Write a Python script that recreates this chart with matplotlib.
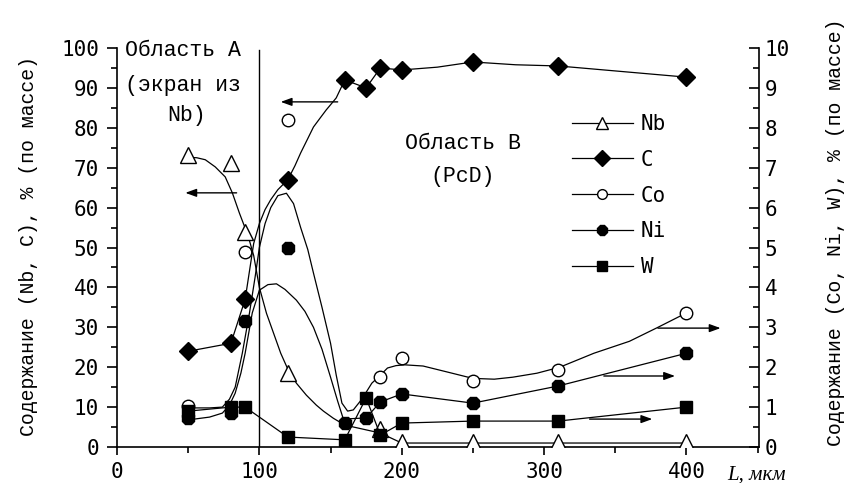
import matplotlib
matplotlib.use("Agg")
import matplotlib.pyplot as plt
from matplotlib.lines import Line2D
from matplotlib.ticker import MultipleLocator

# ---------------- data ----------------
# measured points
x_nb = [50, 80, 90, 120, 185, 200, 250, 310, 400]
nb = [73.2, 71.3, 54, 18.5, 4.5, 1.3, 1.3, 1.3, 1.3]

x_c = [50, 80, 90, 120, 160, 175, 185, 200, 250, 310, 400]
c = [24, 26, 37, 67, 92, 90, 95, 94.5, 96.5, 95.5, 92.7]

x_co = [50, 90, 120, 185, 200, 250, 310, 400]
co = [1.02, 4.9, 8.2, 1.75, 2.23, 1.65, 1.93, 3.36]

x_ni = [50, 80, 90, 120, 160, 175, 185, 200, 250, 310, 400]
ni = [0.73, 0.85, 3.15, 5.0, 0.6, 0.73, 1.13, 1.33, 1.1, 1.53, 2.35]

x_w = [50, 80, 90, 120, 160, 175, 185, 200, 250, 310, 400]
w = [0.9, 1.0, 1.0, 0.25, 0.18, 1.23, 0.3, 0.6, 0.65, 0.65, 1.0]

# drawn (fitted) curves as they appear in the picture
nb_curve_x = [50, 56, 62, 69, 76, 81, 86, 92, 96, 100, 105, 110, 115, 120, 126, 133, 140, 145, 152, 160,
              185, 200, 250, 310, 400]
nb_curve_y = [72.6, 72.5, 72.0, 70.2, 67.7, 63.7, 58.6, 53, 48, 40, 33.5, 28.5, 23.5, 19.5, 16, 13, 10.5,
              9, 7.2, 5.5, 3.5, 1.0, 1.0, 1.0, 1.0]

c_curve_x = [50, 80, 90, 93, 96, 100, 104, 108, 113, 120, 125, 129, 134, 138, 143, 147, 151, 154, 160,
             175, 185, 200, 225, 250, 280, 310, 400]
c_curve_y = [24, 26, 37, 44, 51, 56, 59.5, 62, 64.5, 67, 70.5, 73.7, 77.3, 80.2, 82.6, 84.5, 86.2, 87.5, 92,
             90, 95, 94.5, 95.2, 96.5, 95.8, 95.5, 92.7]

co_curve_x = [50, 65, 74, 79, 83, 88, 93, 97, 100, 104, 108, 113, 119, 124, 129, 134, 138, 144, 150, 154, 158,
              162, 166, 172, 179, 185, 190, 196, 202, 215, 232, 250, 265, 278, 295, 311, 335, 360, 380, 400]
co_curve_y = [0.98, 0.98, 1.0, 1.2, 1.5, 2.35, 3.35, 4.26, 5.0, 5.6, 6.0, 6.3, 6.36, 6.1, 5.5, 4.95, 4.36,
              3.5, 2.6, 1.8, 1.1, 0.9, 0.93, 1.2, 1.6, 1.8, 1.98, 2.04, 2.06, 2.03, 1.88, 1.72, 1.7, 1.75,
              1.85, 2.0, 2.35, 2.65, 3.0, 3.36]

ni_curve_x = [50, 65, 74, 79, 83, 87, 90, 95, 100, 106, 112, 118, 126, 132, 138, 144, 150, 155, 159,
              175, 185, 200, 250, 310, 400]
ni_curve_y = [0.68, 0.75, 0.85, 1.05, 1.35, 1.85, 2.35, 3.36, 3.93, 4.07, 4.09, 3.95, 3.68, 3.4, 3.0, 2.45,
              1.75, 1.15, 0.7, 0.73, 1.13, 1.33, 1.1, 1.53, 2.35]

w_curve_x = x_w
w_curve_y = w

series_labels = ["Nb", "C", "Co", "Ni", "W"]

# annotations
boundary_x = 100
arrows = [((84, 63.7), (48, 63.7)),
          ((155, 86.5), (115, 86.5)),
          ((380, 29.8), (424, 29.8)),
          ((342, 17.8), (392, 17.8)),
          ((332, 7.0), (376, 7.0))]

# ---------------- figure ----------------
mono = "Liberation Mono"
tickfont = "DejaVu Sans Mono"

fig = plt.figure(figsize=(8.53, 4.83), dpi=100)
ax = fig.add_axes([0.1372, 0.0745, 0.7526, 0.8261])
ax2 = ax.twinx()

ax.set_xlim(0, 451)
ax.set_ylim(0, 100)
ax2.set_ylim(0, 10)

for a in (ax, ax2):
    a.spines["top"].set_visible(False)
    for s in a.spines.values():
        s.set_linewidth(1.2)
ax.spines["right"].set_visible(False)
ax2.spines["left"].set_visible(False)
ax2.spines["bottom"].set_visible(False)

ax.xaxis.set_major_locator(MultipleLocator(100))
ax.xaxis.set_minor_locator(MultipleLocator(50))
ax.yaxis.set_major_locator(MultipleLocator(10))
ax.yaxis.set_minor_locator(MultipleLocator(5))
ax2.yaxis.set_major_locator(MultipleLocator(1))
ax2.yaxis.set_minor_locator(MultipleLocator(0.5))

ax.tick_params(axis="x", which="major", direction="out", length=6, width=1.2, pad=5, top=False)
ax.tick_params(axis="x", which="minor", direction="out", length=4, width=1.2, top=False)
ax.tick_params(axis="y", which="major", direction="out", length=7, width=1.2, pad=6, right=False)
ax.tick_params(axis="y", which="minor", direction="out", length=4, width=1.2, right=False)
ax2.tick_params(axis="y", which="major", direction="in", length=7, width=1.2, pad=4, left=False)
ax2.tick_params(axis="y", which="minor", direction="in", length=4, width=1.2, left=False)

for lab in ax.get_xticklabels() + ax.get_yticklabels() + ax2.get_yticklabels():
    lab.set_fontfamily(tickfont)
    lab.set_fontsize(15)

lw = 0.9
# left-axis series
ax.plot(nb_curve_x, nb_curve_y, color="black", lw=lw, zorder=2)
ax.plot(c_curve_x, c_curve_y, color="black", lw=lw, zorder=2)
ax.plot(x_nb, nb, linestyle="none", marker="^", ms=11, mfc="white", mec="black", mew=1.0, zorder=4)
ax.plot(x_c, c, linestyle="none", marker="D", ms=9.5, mfc="black", mec="black", zorder=4)

# right-axis series
ax2.plot(co_curve_x, co_curve_y, color="black", lw=lw, zorder=2)
ax2.plot(ni_curve_x, ni_curve_y, color="black", lw=lw, zorder=2)
ax2.plot(w_curve_x, w_curve_y, color="black", lw=lw, zorder=2)
ax2.plot(x_co, co, linestyle="none", marker="o", ms=9, mfc="white", mec="black", mew=1.0, zorder=4)
ax2.plot(x_ni, ni, linestyle="none", marker="8", ms=10, mfc="black", mec="black", zorder=4)
ax2.plot(x_w, w, linestyle="none", marker="s", ms=8.5, mfc="black", mec="black", zorder=4)

# boundary line
ax.axvline(boundary_x, ymin=0, ymax=0.995, color="black", lw=1.0, zorder=1)

# arrows
for (tail, head) in arrows:
    ax2.annotate("", xy=(head[0], head[1] / 10), xytext=(tail[0], tail[1] / 10),
                 arrowprops=dict(arrowstyle="-|>,head_length=0.55,head_width=0.2",
                                 color="black", lw=1.0, mutation_scale=12,
                                 shrinkA=0, shrinkB=0))

# region texts
tsize = 15.5
ax2.text(5.6, 9.95, "Область A", fontfamily=mono, fontsize=tsize, ha="left", va="center")
ax2.text(5.6, 9.07, "(экран из", fontfamily=mono, fontsize=tsize, ha="left", va="center")
ax2.text(49, 8.3, "Nb)", fontfamily=mono, fontsize=tsize, ha="center", va="center")
ax2.text(243, 7.6, "Область B", fontfamily=mono, fontsize=tsize, ha="center", va="center")
ax2.text(242.5, 6.77, "(PcD)", fontfamily=mono, fontsize=tsize, ha="center", va="center")

# axis labels
fig.text(0.033, 0.49, "Содержание (Nb, C), % (по массе)", rotation=90,
         fontfamily=mono, fontsize=14.3, ha="center", va="center")
fig.text(0.979, 0.52, "Содержание (Co, Ni, W), % (по массе)", rotation=90,
         fontfamily=mono, fontsize=14.3, ha="center", va="center")
fig.text(0.852, 0.0166, "L, мкм", fontfamily="Liberation Serif", style="italic",
         fontsize=15, ha="left", va="center")

# legend
markers = [dict(marker="^", mfc="white", ms=9),
           dict(marker="D", mfc="black", ms=8),
           dict(marker="o", mfc="white", ms=7),
           dict(marker="8", mfc="black", ms=8.5),
           dict(marker="s", mfc="black", ms=7.5)]
handles = [Line2D([], [], color="black", lw=lw, mec="black", mew=1.0, **m) for m in markers]
leg = ax2.legend(handles, series_labels, loc="upper left", bbox_to_anchor=(0.709, 0.835),
                 frameon=False, handlelength=2.9, handletextpad=0.4, labelspacing=0.76,
                 borderpad=0, borderaxespad=0,
                 prop=dict(family=tickfont, size=15))

fig.savefig("out.png", dpi=100)
